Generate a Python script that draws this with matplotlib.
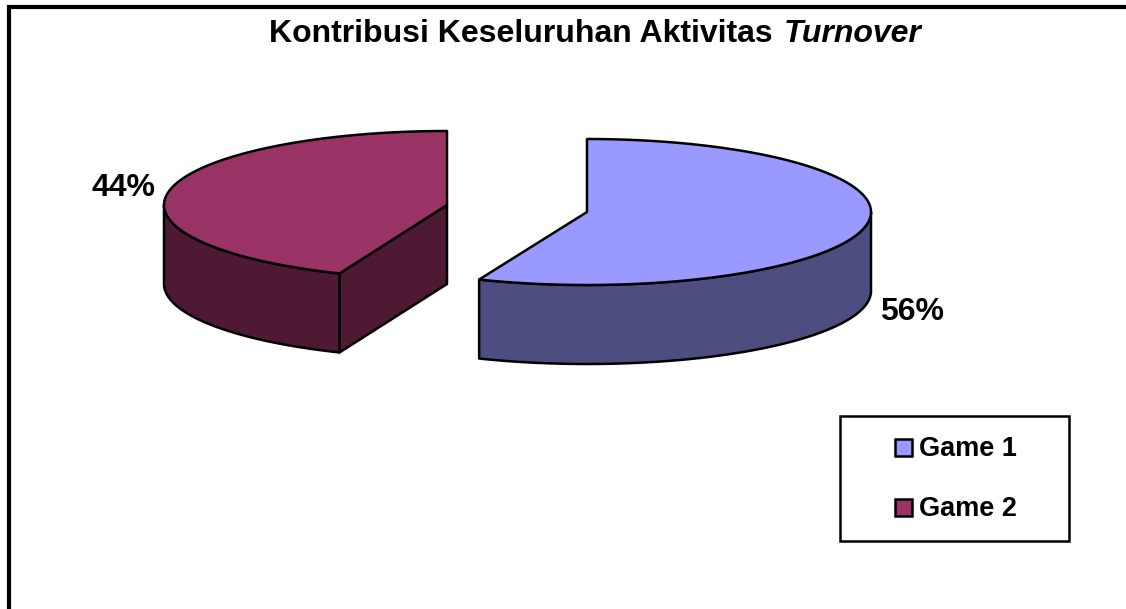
import numpy as np
import matplotlib
matplotlib.use('Agg')
import matplotlib.pyplot as plt
from matplotlib.patches import Polygon, Rectangle

plt.rcParams['font.family'] = ['Liberation Sans', 'DejaVu Sans']

games = ['Game 1', 'Game 2']
values = [56.2, 43.8]
top_colors = ['#9999FF', '#993366']
side_colors = ['#4D4D80', '#4D1933']

# pixel layout of the two exploded slices
centers = [(587, 212), (447, 205)]
radii = [(284, 73), (283, 74)]
depth = 79
label_pos = [(912, 312.5), (123, 188.5)]


def rim(center, radius, start, stop):
    # angles in degrees, clockwise from 12 o'clock
    t = np.radians(np.linspace(start, stop, 200))
    return np.column_stack((center[0] + radius[0] * np.sin(t),
                            center[1] - radius[1] * np.cos(t)))


def draw_face(ax, pts, color):
    ax.add_patch(Polygon(pts, closed=True, facecolor=color, edgecolor='black',
                         linewidth=1.8, joinstyle='round'))


fig = plt.figure(figsize=(11.26, 6.09), dpi=100)
ax = fig.add_axes([0, 0, 1, 1])
ax.set_xlim(0, 1126)
ax.set_ylim(609, 0)
ax.axis('off')

# chart border, only top and left are visible
ax.plot([9, 9, 1126], [609, 7, 7], color='black', linewidth=3, solid_joinstyle='miter')

total = float(sum(values))
start = 0.0
for i in range(len(values)):
    stop = start + 360.0 * values[i] / total
    c = centers[i]
    r = radii[i]
    apex = np.array(c)
    drop = np.array([0, depth])

    # the cut face that looks to the viewer (second slice only)
    if stop > 270 and start > 180:
        edge = rim(c, r, start, start)[0]
        draw_face(ax, [apex, edge, edge + drop, apex + drop], side_colors[i])

    # outer wall, only the front half of the rim shows
    lo = max(start, 90)
    hi = min(stop, 270)
    wall = rim(c, r, lo, hi)
    draw_face(ax, np.vstack((wall, wall[::-1] + drop)), side_colors[i])

    # top
    draw_face(ax, np.vstack(([apex], rim(c, r, start, stop))), top_colors[i])

    ax.text(label_pos[i][0], label_pos[i][1], '%.0f%%' % values[i], fontsize=23,
            fontweight='bold', ha='center', va='center')
    start = stop

# title, the last word is italic
t1 = ax.text(269, 33.5, 'Kontribusi Keseluruhan Aktivitas', fontsize=23,
             fontweight='bold', ha='left', va='center')
ax.annotate('Turnover', xy=(1, 0), xycoords=t1, xytext=(11, 0), textcoords='offset pixels',
            fontsize=23, fontweight='bold', fontstyle='italic', ha='left', va='bottom')

# legend
ax.add_patch(Rectangle((840, 416), 229, 125, facecolor='white', edgecolor='black', linewidth=1.8))
legend_y = [447, 507]
for i in range(len(games)):
    ax.add_patch(Rectangle((895, legend_y[i] - 8), 17, 17, facecolor=top_colors[i],
                           edgecolor='black', linewidth=1.8))
    ax.text(919, legend_y[i] + 2.5, games[i], fontsize=19.5, fontweight='bold', ha='left', va='center')

fig.savefig('out.png', dpi=100)
